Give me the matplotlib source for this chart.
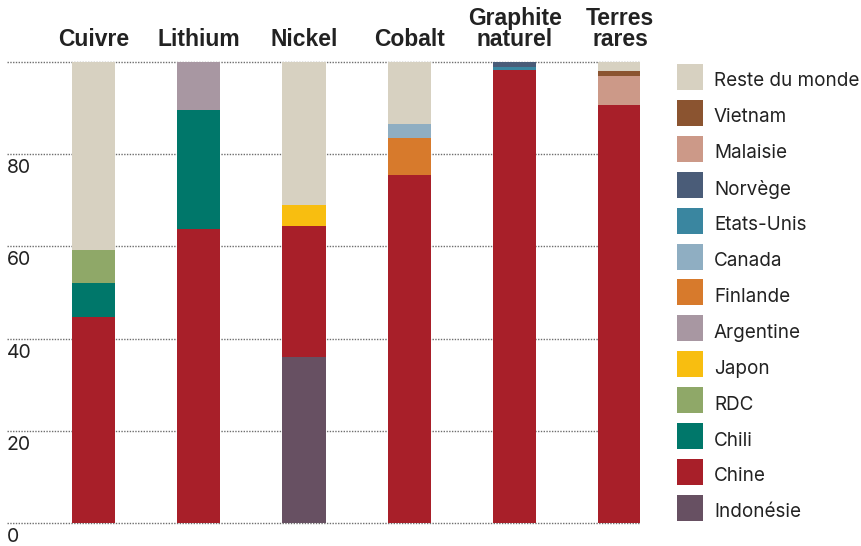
import matplotlib
matplotlib.use('Agg')
import numpy as np
import matplotlib.pyplot as plt
from matplotlib.patches import Rectangle
from matplotlib.transforms import blended_transform_factory, offset_copy

minerais = ['Cuivre', 'Lithium', 'Nickel', 'Cobalt', 'Graphite\nnaturel', 'Terres\nrares']

# parts de production (%), de bas en haut
indonesie = [0, 0, 36.0, 0, 0, 0]
chine = [44.7, 63.8, 28.4, 75.5, 98.3, 90.7]
chili = [7.4, 25.8, 0, 0, 0, 0]
rdc = [7.1, 0, 0, 0, 0, 0]
japon = [0, 0, 4.6, 0, 0, 0]
argentine = [0, 10.4, 0, 0, 0, 0]
finlande = [0, 0, 0, 8.1, 0, 0]
canada = [0, 0, 0, 2.9, 0, 0]
etats_unis = [0, 0, 0, 0, 0.6, 0]
norvege = [0, 0, 0, 0, 1.1, 0]
malaisie = [0, 0, 0, 0, 0, 6.3]
vietnam = [0, 0, 0, 0, 0, 1.1]
reste = [40.8, 0, 31.0, 13.5, 0, 1.9]

series = [
    ('Indonésie', indonesie, '#675062'),
    ('Chine', chine, '#a81f29'),
    ('Chili', chili, '#00776a'),
    ('RDC', rdc, '#8fa868'),
    ('Japon', japon, '#f8be10'),
    ('Argentine', argentine, '#a897a2'),
    ('Finlande', finlande, '#d77a2c'),
    ('Canada', canada, '#8faec2'),
    ('Etats-Unis', etats_unis, '#3a86a0'),
    ('Norvège', norvege, '#4a5c78'),
    ('Malaisie', malaisie, '#cc9988'),
    ('Vietnam', vietnam, '#8b5430'),
    ('Reste du monde', reste, '#d7d1c1'),
]

txt = '#222222'
fig = plt.figure(figsize=(8.62, 5.46), dpi=100)
ax = fig.add_axes([7 / 862, 23 / 546, 633 / 862, 461 / 546])

x = np.arange(len(minerais))
bottom = np.zeros(len(minerais))
for name, vals, col in series:
    v = np.array(vals, dtype=float)
    ax.bar(x, v, bottom=bottom, width=0.41, color=col, zorder=3, linewidth=0)
    bottom += v

ax.set_xlim(-0.821, 5.19)
ax.set_ylim(0, 100)
for s in ax.spines.values():
    s.set_visible(False)
ax.set_xticks([])
ax.set_yticks([])
for yv in range(0, 101, 20):
    ax.axhline(yv, color='#6e6e6e', lw=1.0, ls=(0, (1, 1)), zorder=1, clip_on=False)

trans = blended_transform_factory(ax.transAxes, ax.transData)
trans = offset_copy(trans, fig=fig, x=0, y=-5, units='dots')
for yv in range(0, 100, 20):
    ax.text(0, yv, str(yv), transform=trans, ha='left', va='top',
            fontsize=14, color=txt, family='Inter', clip_on=False)

for i, m in enumerate(minerais):
    ax.annotate(m, (x[i], 100), xytext=(0, 8), textcoords='offset points',
                ha='center', va='bottom', fontsize=16.5, fontweight='bold',
                color=txt, family='Liberation Sans', linespacing=0.88,
                annotation_clip=False)

# légende
lax = fig.add_axes([0, 0, 1, 1])
lax.set_xlim(0, 862)
lax.set_ylim(546, 0)
lax.axis('off')
for k, (name, vals, col) in enumerate(series[::-1]):
    y0 = 64 + 35.9 * k
    lax.add_patch(Rectangle((677, y0), 26, 26, color=col, lw=0))
    lax.text(714, y0 + 17.5, name, ha='left', va='center', fontsize=13.6,
             color=txt, family='Inter')

plt.savefig('out.png', dpi=100)
